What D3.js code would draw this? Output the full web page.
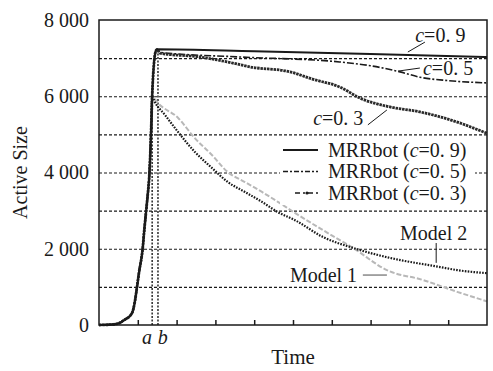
<!DOCTYPE html>
<html>
<head>
<meta charset="utf-8">
<script src="https://cdn.jsdelivr.net/npm/d3@7"></script>
<style>
  body { margin: 0; background: #fff; }
  svg { display: block; font-family: "Liberation Serif", "Times New Roman", serif; }
</style>
</head>
<body>
<div class="chart"></div>
<script>
// values: [time, active size]
const rise = [[0, 0], [3, 10], [5, 40], [6.5, 130], [8.5, 310], [9.3, 650], [9.8, 1000], [10.3, 1370],
  [11.3, 2050], [11.6, 2410], [12.1, 2940], [12.6, 3460], [12.9, 3810], [13.4, 5000], [13.7, 6000]];
const riseTop = [[14.2, 6900], [14.7, 7200], [15.0, 7230]];
const mrr09 = [[40, 7180], [70, 7110], [100, 7030]];
const mrr05 = [[15.8, 7150], [36.3, 7030], [62, 6900], [70, 6800], [77.6, 6640], [82.7, 6500], [90, 6410], [100, 6350]];
const mrr03 = [[15.7, 7130], [26, 7030], [34.5, 6870], [38.9, 6770], [49.2, 6640], [55, 6450], [62.1, 6240],
  [67.3, 5950], [75, 5720], [82.7, 5590], [87.9, 5460], [93, 5300], [96.4, 5170], [100, 5030]];
const model1 = [[15.2, 5820], [20.4, 5430], [24.7, 4900], [29.1, 4460], [33.2, 4010], [37.6, 3750], [42, 3490],
  [46.1, 3230], [50.5, 2940], [57.7, 2490], [65.5, 2020], [74.2, 1440], [83.5, 1180], [92.3, 870], [100, 620]];
const model2 = [[14.4, 5850], [17, 5510], [20.4, 5060], [24.7, 4540], [29.1, 4120], [33.2, 3750], [37.6, 3490],
  [42, 3230], [46.1, 2960], [50.5, 2750], [57.7, 2310], [65.5, 2020], [75, 1760], [87.9, 1520], [92.3, 1440], [100, 1360]];

const yLabels = [0, 2000, 4000, 6000, 8000];
const gridValues = [1000, 2000, 3000, 4000, 5000, 6000, 7000];
const xTicks = [10, 20, 30, 40, 50, 60, 70, 80, 90];
const markA = 13.7, markB = 15.2;

const width = 493, height = 371;
const margin = { top: 20, right: 6, bottom: 46, left: 99 };
const ink = '#1a1a1a';
const fs = 20;

const svg = d3.select('.chart').append('svg')
  .attr('width', width)
  .attr('height', height);

const x = d3.scaleLinear().domain([0, 100]).range([margin.left, width - margin.right]);
const y = d3.scaleLinear().domain([0, 8000]).range([height - margin.bottom, margin.top]);

// dashed grid
svg.append('g')
  .attr('transform', `translate(${margin.left},0)`)
  .call(d3.axisLeft(y).tickValues(gridValues).tickSize(-(x(100) - x(0))).tickFormat(''))
  .call(g => g.select('.domain').remove())
  .call(g => g.selectAll('line').attr('stroke', ink).attr('stroke-width', 1.2).attr('stroke-dasharray', '3,2'));

// y labels
const fmt = d => d === 0 ? '0' : d3.format(',')(d).replace(',', ' ');
svg.append('g')
  .attr('transform', `translate(${margin.left},0)`)
  .call(d3.axisLeft(y).tickValues(yLabels).tickSize(0).tickPadding(10).tickFormat(fmt))
  .call(g => g.select('.domain').remove())
  .call(g => g.selectAll('text').attr('font-family', 'Liberation Serif').attr('font-size', fs).attr('fill', ink));

// a / b markers
const marks = [[markA, 6000], [markB, 7200]];
svg.append('g').selectAll('line').data(marks).join('line')
  .attr('x1', d => x(d[0])).attr('x2', d => x(d[0]))
  .attr('y1', y(0)).attr('y2', d => y(d[1]))
  .attr('stroke', ink).attr('stroke-width', 1.4).attr('stroke-dasharray', '2,1.5');

const line = d3.line().x(d => x(d[0])).y(d => y(d[1])).curve(d3.curveMonotoneX);

const series = [
  { data: rise.concat(model1), stroke: '#b8b8b8', w: 2, dash: '5,2' },
  { data: rise.concat(model2), stroke: ink, w: 2.2, dash: '1.6,1.3' },
  { data: rise.concat(riseTop, mrr05), stroke: ink, w: 1.6, dash: '7,2,2,2' },
  { data: rise.concat(riseTop, mrr03), stroke: '#2a2a2a', w: 2.8, dash: '2.5,0.8' },
  { data: rise.concat(riseTop, mrr09), stroke: ink, w: 2, dash: null }
];

svg.append('g').selectAll('path').data(series).join('path')
  .attr('d', d => line(d.data))
  .attr('fill', 'none')
  .attr('stroke', d => d.stroke)
  .attr('stroke-width', d => d.w)
  .attr('stroke-dasharray', d => d.dash);

// frame and bottom axis
svg.append('rect')
  .attr('x', x(0)).attr('y', y(8000))
  .attr('width', x(100) - x(0)).attr('height', y(0) - y(8000))
  .attr('fill', 'none').attr('stroke', ink).attr('stroke-width', 1.5);

svg.append('g')
  .attr('transform', `translate(0,${y(0)})`)
  .call(d3.axisBottom(x).tickValues(xTicks).tickSize(-5).tickFormat(''))
  .call(g => g.select('.domain').remove())
  .call(g => g.selectAll('line').attr('stroke', ink).attr('stroke-width', 1.5));

svg.append('g').selectAll('text').data([['a', markA - 1.3], ['b', markB + 1.2]]).join('text')
  .attr('x', d => x(d[1])).attr('y', y(0) + 19)
  .attr('text-anchor', 'middle')
  .attr('font-size', fs).attr('font-style', 'italic').attr('fill', ink)
  .text(d => d[0]);

// axis titles
svg.append('text')
  .attr('x', (x(0) + x(100)) / 2).attr('y', height - 7)
  .attr('text-anchor', 'middle').attr('font-size', 21).attr('fill', ink)
  .text('Time');

svg.append('text')
  .attr('transform', `translate(27,${(y(0) + y(8000)) / 2}) rotate(-90)`)
  .attr('text-anchor', 'middle').attr('font-size', fs).attr('fill', ink)
  .text('Active Size');

// legend
const legendRows = [
  { label: '0. 9', dash: null, w: 2, x0: 283 },
  { label: '0. 5', dash: '5,2,2,2', w: 1.5, x0: 283 },
  { label: '0. 3', dash: '5,3,2,3', w: 1.5, x0: 295 }
];
const legend = svg.append('g');
legend.append('rect')
  .attr('x', 280).attr('y', 138).attr('width', 195).attr('height', 67)
  .attr('fill', '#fff');
legendRows.forEach((r, i) => {
  const ly = 150 + i * 21.5;
  legend.append('line')
    .attr('x1', r.x0).attr('x2', 318).attr('y1', ly).attr('y2', ly)
    .attr('stroke', ink).attr('stroke-width', r.w).attr('stroke-dasharray', r.dash);
  if (i === 2) {
    legend.append('circle').attr('cx', 307).attr('cy', ly).attr('r', 1.6).attr('fill', ink);
  }
  const t = legend.append('text')
    .attr('x', 328).attr('y', ly + 6.5)
    .attr('font-size', fs).attr('fill', ink);
  t.append('tspan').text('MRRbot (');
  t.append('tspan').attr('font-style', 'italic').text('c');
  t.append('tspan').text('=' + r.label + ')');
});

// curve annotations: [text, label x, label baseline, leader from, leader to]
const cNotes = [
  ['0. 9', 81.5, 7420, [79.6, 7160], [84, 7420]],
  ['0. 5', 83.5, 6560, [77.1, 6660], [82.7, 6740]],
  ['0. 3', 55.2, 5250, [69.3, 5250], [74.2, 5640]]
];
cNotes.forEach(n => {
  svg.append('line')
    .attr('x1', x(n[3][0])).attr('y1', y(n[3][1]))
    .attr('x2', x(n[4][0])).attr('y2', y(n[4][1]))
    .attr('stroke', ink).attr('stroke-width', 1);
  const t = svg.append('text')
    .attr('x', x(n[1])).attr('y', y(n[2]))
    .attr('font-size', fs).attr('fill', ink);
  t.append('tspan').attr('font-style', 'italic').text('c');
  t.append('tspan').text('=' + n[0]);
});

svg.append('text').attr('x', x(77.6)).attr('y', y(2230))
  .attr('font-size', fs).attr('fill', ink).text('Model 2');
svg.append('line')
  .attr('x1', x(86.9)).attr('x2', x(86.9)).attr('y1', y(2150)).attr('y2', y(1630))
  .attr('stroke', ink).attr('stroke-width', 1);

svg.append('text').attr('x', x(49.2)).attr('y', y(1130))
  .attr('font-size', fs).attr('fill', ink).text('Model 1');
svg.append('line')
  .attr('x1', x(68)).attr('x2', x(74.2)).attr('y1', y(1310)).attr('y2', y(1310))
  .attr('stroke', '#888').attr('stroke-width', 1.5);
</script>
</body>
</html>
